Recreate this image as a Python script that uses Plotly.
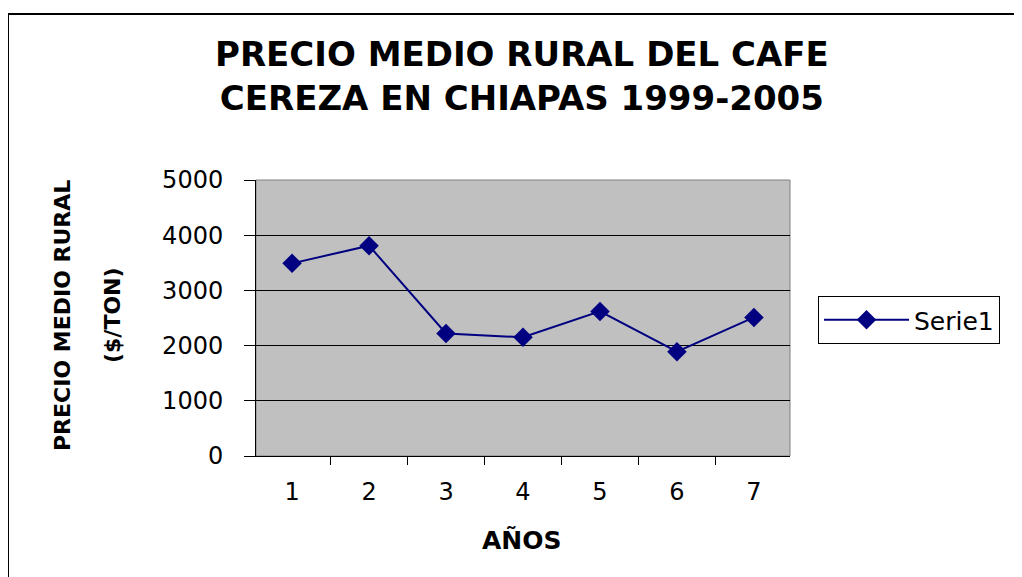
import plotly.graph_objects as go

years = ["1", "2", "3", "4", "5", "6", "7"]
precio = [3490, 3810, 2220, 2150, 2620, 1890, 2510]
series_name = "Serie1"
title_text = "PRECIO MEDIO RURAL DEL CAFE<br>CEREZA EN CHIAPAS 1999-2005"
ytitle_1 = "PRECIO MEDIO RURAL"
ytitle_2 = "($/TON)"
xtitle = "AÑOS"

fig = go.Figure()
fig.add_trace(go.Scatter(
    x=years, y=precio, mode="lines+markers", name=series_name,
    line=dict(color="#000080", width=2),
    marker=dict(symbol="diamond", size=15, color="#000080"),
))

font = "DejaVu Sans, Arial, sans-serif"
fig.update_layout(
    width=1022, height=577,
    margin=dict(l=248, r=240, t=172, b=129),
    paper_bgcolor="white", plot_bgcolor="#C0C0C0",
    font=dict(family=font, color="black"),
    showlegend=True,
    legend=dict(x=(818 - 256) / 534, y=(456 - 296) / 276,
                xanchor="left", yanchor="top",
                bordercolor="black", borderwidth=1, bgcolor="white",
                font=dict(size=25, family=font),
                itemwidth=85, entrywidth=200, tracegroupgap=0),
    xaxis=dict(type="category", tickson="boundaries", ticks="outside",
               ticklen=8, tickcolor="black", showgrid=False,
               showline=True, linecolor="black", linewidth=1,
               tickfont=dict(size=24), ticklabelstandoff=14),
    yaxis=dict(range=[0, 5000], dtick=1000, ticks="outside", ticklen=11,
               tickcolor="black", showgrid=True, gridcolor="black",
               gridwidth=1, showline=True, linecolor="black", linewidth=1,
               tickfont=dict(size=24), zeroline=False, ticklabelstandoff=16),
)


def px(sx):
    return (sx - 256) / 534


def py(sy):
    return (456 - sy) / 276


fig.add_annotation(text="<b>" + title_text + "</b>", xref="paper", yref="paper",
                   x=px(522), y=py(76), showarrow=False,
                   font=dict(size=34, family=font), xanchor="center",
                   yanchor="middle", align="center")
fig.add_annotation(text="<b>" + ytitle_1 + "</b>", xref="paper", yref="paper",
                   x=px(62), y=py(316), showarrow=False,
                   textangle=-90, font=dict(size=22, family=font),
                   xanchor="center", yanchor="middle")
fig.add_annotation(text="<b>" + ytitle_2 + "</b>", xref="paper", yref="paper",
                   x=px(112), y=py(315), showarrow=False,
                   textangle=-90, font=dict(size=22, family=font),
                   xanchor="center", yanchor="middle")
fig.add_annotation(text="<b>" + xtitle + "</b>", xref="paper", yref="paper",
                   x=px(522), y=py(540), showarrow=False,
                   font=dict(size=25, family=font),
                   xanchor="center", yanchor="middle")

# plot area grey border (top and right)
fig.add_shape(type="rect", xref="paper", yref="paper", x0=0, y0=0, x1=1, y1=1,
              line=dict(color="#808080", width=1), layer="below")
# outer chart border
fig.add_shape(type="rect", xref="paper", yref="paper",
              x0=px(8), y0=py(600), x1=px(1040), y1=py(14),
              line=dict(color="black", width=2))

fig.write_html("out.html")
